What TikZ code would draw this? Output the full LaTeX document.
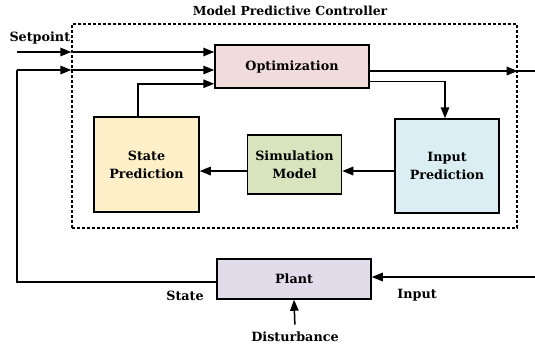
\documentclass[tikz,border=0pt]{standalone}
\usepackage{fontspec}
\setmainfont{DejaVu Serif}
\usetikzlibrary{arrows.meta}
\definecolor{optfill}{HTML}{F2DCDB}
\definecolor{spfill}{HTML}{FDF0C9}
\definecolor{simfill}{HTML}{D7E4BD}
\definecolor{ipfill}{HTML}{DAEEF3}
\definecolor{plantfill}{HTML}{E0DCEA}
\begin{document}
\begin{tikzpicture}[x=1bp,y=-1bp]
\tikzstyle{every node}+=[font=\bfseries\fontsize{12.8}{18}\selectfont, align=center]
\tikzstyle{block}=[draw, line width=1.5bp, inner sep=0pt]
\tikzstyle{arr}=[line width=1.5bp, -{Triangle[length=11bp,width=8.5bp]}]
\tikzstyle{wire}=[line width=1.5bp]
\useasboundingbox (0,0) rectangle (535,349);
\node [draw, line width=1.3bp, dash pattern=on 3bp off 2bp, minimum width=445bp, minimum height=204bp] (mpc) at (294.5,126) {};
\node [font=\bfseries\fontsize{12.5}{15}\selectfont] (title) at (290,11) {Model Predictive Controller};
\node [block, fill=optfill, minimum width=154bp, minimum height=43bp] (opt) at (292,66.5) {Optimization};
\node [block, fill=spfill, minimum width=105bp, minimum height=95bp] (sp) at (146.5,164.5) {State\\Prediction};
\node [block, fill=simfill, minimum width=94bp, minimum height=59bp] (sim) at (294.5,164.5) {Simulation\\Model};
\node [block, fill=ipfill, minimum width=104bp, minimum height=94bp] (ip) at (447,166) {Input\\Prediction};
\node [block, fill=plantfill, minimum width=154bp, minimum height=40bp] (plant) at (294,279) {Plant};
\node [anchor=west] (setpt) at (6,38) {Setpoint};
\node (state) at (185,296) {State};
\node (input) at (417,295) {Input};
\node (dist) at (295,337) {Disturbance};
\coordinate (spin) at (17,52);
\coordinate (fb) at (17,70);
\coordinate (out) at (535,71);
\coordinate (in) at (535,277);
\draw [arr] (spin) -- (spin -| mpc.west);
\draw [arr] (spin -| mpc.west) -- (spin -| opt.west);
\draw [wire] ([yshift=-3bp]plant.west) -| (fb);
\draw [arr] (fb) -- (fb -| mpc.west);
\draw [arr] (fb -| mpc.west) -- (fb -| opt.west);
\draw [arr] ([xshift=-8.5bp]sp.north) |- ([yshift=5bp]opt.south west);
\draw [arr] (opt.east |- out) -- (out -| mpc.east);
\draw [wire] (out -| mpc.east) -- (out);
\draw [arr] ([yshift=-15bp]opt.east) -| ([xshift=-2bp]ip.north);
\draw [arr] ([yshift=-5bp]ip.west) -- ([yshift=-5bp]ip.west -| sim.east);
\draw [arr] ([yshift=-6.5bp]sim.west) -- ([yshift=-6.5bp]sim.west -| sp.east);
\draw [arr] (in) -- (in -| plant.east);
\draw [arr, shorten <=4bp] (dist.north) -- (plant.south);
\end{tikzpicture}
\end{document}
